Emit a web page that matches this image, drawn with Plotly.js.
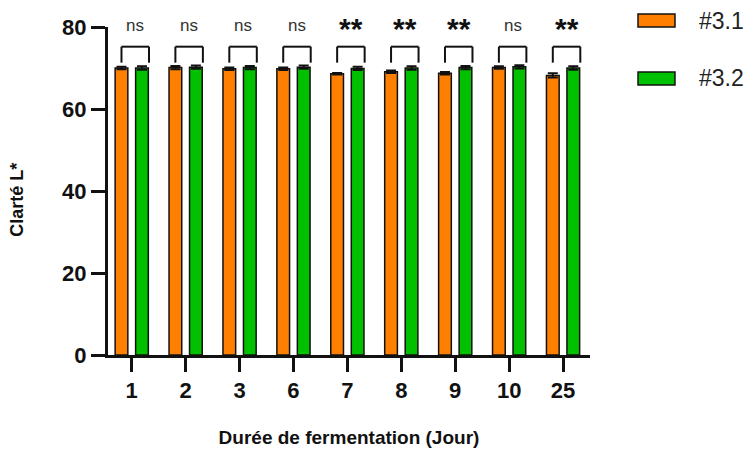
<!DOCTYPE html>
<html>
<head>
<meta charset="utf-8">
<script src="https://cdn.plot.ly/plotly-3.0.1.min.js"></script>
<style>html,body{margin:0;padding:0;background:#fff;}#chart{width:749px;height:450px;}</style>
</head>
<body>
<div id="chart"></div>
<script>
// ---- data ----
const days = ['1', '2', '3', '6', '7', '8', '9', '10', '25'];
const series31 = [70.0, 70.1, 69.8, 69.8, 68.6, 69.1, 68.7, 70.1, 68.2];
const err31    = [0.3, 0.4, 0.3, 0.3, 0.2, 0.3, 0.3, 0.3, 0.5];
const series32 = [70.0, 70.2, 70.1, 70.2, 69.9, 70.0, 70.1, 70.3, 70.0];
const err32    = [0.4, 0.4, 0.4, 0.4, 0.4, 0.4, 0.4, 0.4, 0.4];
const significance = ['ns', 'ns', 'ns', 'ns', '**', '**', '**', 'ns', '**'];
const seriesNames = ['#3.1', '#3.2'];
const yTicks = [0, 20, 40, 60, 80];
const xTitle = 'Durée de fermentation (Jour)';
const yTitle = 'Clarté L*';

// ---- styles ----
const FONT = 'Liberation Sans, Arial, sans-serif';
const ORANGE = 'rgb(255,128,0)';
const GREEN = 'rgb(0,192,0)';
const Y_MAX = 80;

function bar(name, y, e, color) {
  return {
    type: 'bar', name: name, x: days, y: y,
    marker: {color: color, line: {color: '#111', width: 1.5}},
    error_y: {type: 'data', array: e, symmetric: true, color: '#111', thickness: 2, width: 5},
    showlegend: false, cliponaxis: false
  };
}

const traces = [
  bar(seriesNames[0], series31, err31, ORANGE),
  bar(seriesNames[1], series32, err32, GREEN)
];

// significance brackets
const shapes = [];
const annotations = [];
const bTop = 75.2, bLeg = 71.3, legL = -0.19, legR = 0.32;
significance.forEach((s, i) => {
  const line = {color: '#111', width: 2};
  shapes.push({type: 'line', xref: 'x', yref: 'y', x0: i + legL, x1: i + legR, y0: bTop, y1: bTop, line: line});
  shapes.push({type: 'line', xref: 'x', yref: 'y', x0: i + legL, x1: i + legL, y0: bTop, y1: bLeg, line: line});
  shapes.push({type: 'line', xref: 'x', yref: 'y', x0: i + legR, x1: i + legR, y0: bTop, y1: bLeg, line: line});
  const isStar = s !== 'ns';
  annotations.push({
    xref: 'x', yref: 'paper', x: i + (legL + legR) / 2, y: (isStar ? 79.6 : 80.3) / Y_MAX,
    text: isStar ? '<b>' + s + '</b>' : s, showarrow: false,
    xanchor: 'center', yanchor: 'middle',
    font: {family: FONT, size: isStar ? 30 : 17, color: isStar ? '#111' : '#333'}
  });
});

// legend drawn manually (large swatches)
const legendColors = [ORANGE, GREEN];
const legendY = [1.0198, 0.843];
seriesNames.forEach((n, k) => {
  shapes.push({type: 'rect', xref: 'paper', yref: 'paper',
    x0: 1.0996, x1: 1.1763, y0: legendY[k] - 0.0198, y1: legendY[k] + 0.0198,
    fillcolor: legendColors[k], line: {color: '#111', width: 1.5}});
  annotations.push({xref: 'paper', yref: 'paper', x: 1.222, y: legendY[k],
    xanchor: 'left', yanchor: 'middle', showarrow: false, text: n,
    font: {family: FONT, size: 23, color: '#222'}});
});

// y-axis title placed as rotated annotation (offset like the reference)
annotations.push({xref: 'paper', yref: 'paper', x: -0.189, y: 0.473,
  xanchor: 'center', yanchor: 'middle', textangle: -90, showarrow: false,
  text: '<b>' + yTitle + '</b>', font: {family: FONT, size: 18, color: '#111'}});

const layout = {
  width: 749, height: 450,
  margin: {l: 108, r: 159, t: 27, b: 95, pad: 0},
  paper_bgcolor: '#fff', plot_bgcolor: '#fff',
  barmode: 'group', bargap: 0.24, bargroupgap: 0.38,
  font: {family: FONT, color: '#111'},
  xaxis: {
    type: 'category', range: [-0.44, 8.5],
    tickvals: days, ticktext: days.map(d => '<b>' + d + '</b>'),
    showline: true, linecolor: '#111', linewidth: 3,
    ticks: 'outside', ticklen: 14, tickwidth: 3, tickcolor: '#111',
    showgrid: false, zeroline: false,
    tickfont: {family: FONT, size: 22, color: '#111'},
    title: {text: '<b>' + xTitle + '</b>', font: {family: FONT, size: 19, color: '#111'}, standoff: 29}
  },
  yaxis: {
    range: [0, Y_MAX],
    tickvals: yTicks, ticktext: yTicks.map(v => '<b>' + v + '</b>'),
    showline: true, linecolor: '#111', linewidth: 3,
    ticks: 'outside', ticklen: 14, tickwidth: 3, tickcolor: '#111',
    showgrid: false, zeroline: false,
    tickfont: {family: FONT, size: 22, color: '#111'}
  },
  shapes: shapes,
  annotations: annotations,
  showlegend: false
};

Plotly.newPlot('chart', traces, layout, {displayModeBar: false, staticPlot: true});
</script>
</body>
</html>
